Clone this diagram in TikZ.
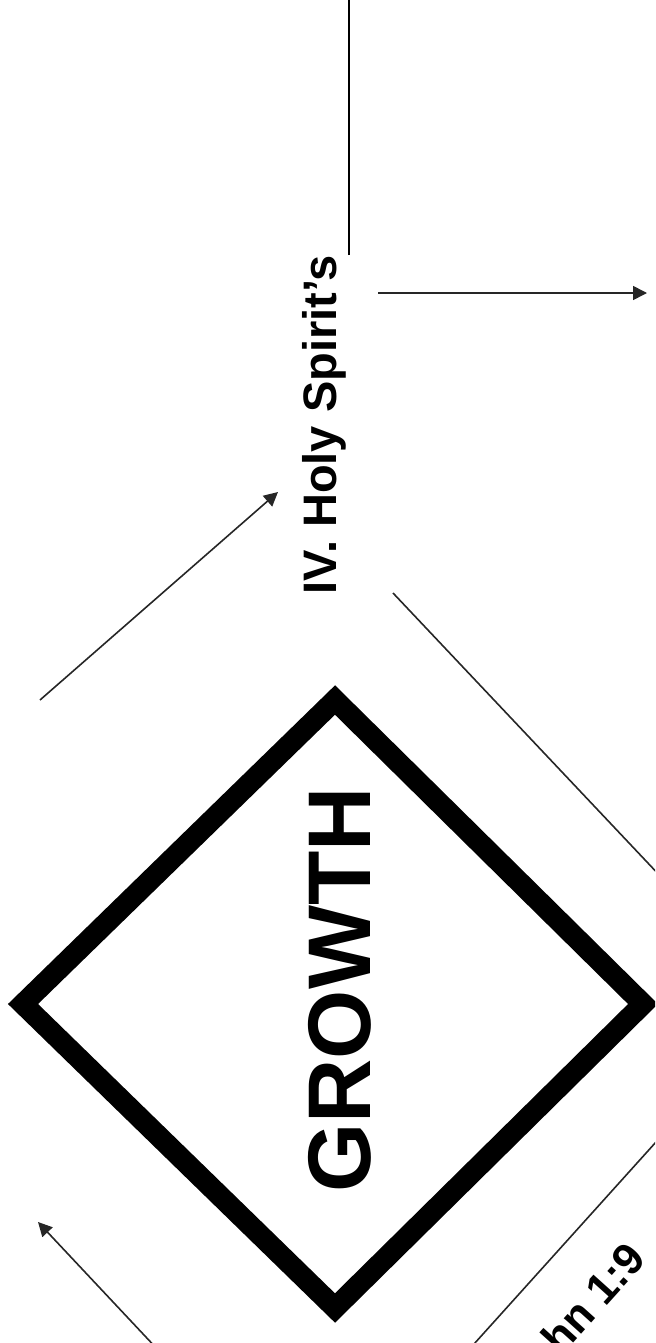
\documentclass[tikz,border=0pt]{standalone}
\usepackage{fontspec}
\setmainfont{Liberation Sans}
\usetikzlibrary{arrows.meta}
\begin{document}
\begin{tikzpicture}[x=0.5pt,y=-0.5pt,
  thinline/.style={line width=0.8pt, draw=black!85},
  arr/.style={thinline, -{Triangle[length=7pt,width=7pt]}},
  frame/.style={line width=10.5pt, line join=miter, miter limit=10},
  holytext/.style={font=\fontsize{23.5pt}{28pt}\selectfont\bfseries, inner sep=0pt, rotate=90},
  bigtext/.style={font=\fontsize{44.5pt}{50pt}\selectfont\bfseries, inner sep=0pt, rotate=90},
  reftext/.style={font=\fontsize{22pt}{26pt}\selectfont\bfseries, inner sep=0pt, rotate=48}]
\useasboundingbox (0,0) rectangle (655,1343);
\clip (0,0) rectangle (655,1343);
% diamond
\coordinate (T) at (335,700);
\coordinate (R) at (643,1004);
\coordinate (B) at (335,1308);
\coordinate (L) at (23,1004);
\draw[frame] (T) -- (R) -- (B) -- (L) -- cycle;
\node[bigtext, anchor=base] (growth) at (370,990) {GROWTH};
% Holy Spirit's
\node[holytext, anchor=base east] (holy) at (336,255) {IV. Holy Spirit’s};
\coordinate (ulA) at (349,255);
\coordinate (ulB) at (349,-5);
\draw[line width=1.2pt] (ulA) -- (ulB);
% arrows
\coordinate (h1) at (378,293);
\coordinate (h2) at (647,293);
\draw[arr] (h1) -- (h2);
\coordinate (ne1) at (40,700);
\coordinate (ne2) at (278,492);
\draw[arr] (ne1) -- (ne2);
\coordinate (se1) at (393,593);
\coordinate (se2) at (680,897);
\draw[thinline] (se1) -- (se2);
\coordinate (bl1) at (160,1352);
\coordinate (bl2) at (38,1222);
\draw[arr] (bl1) -- (bl2);
\coordinate (br1) at (665,1132);
\coordinate (br2) at (465,1354);
\draw[thinline] (br1) -- (br2);
\node[reftext, anchor=base east] (john) at (648,1260) {John 1:9};
\end{tikzpicture}
\end{document}
